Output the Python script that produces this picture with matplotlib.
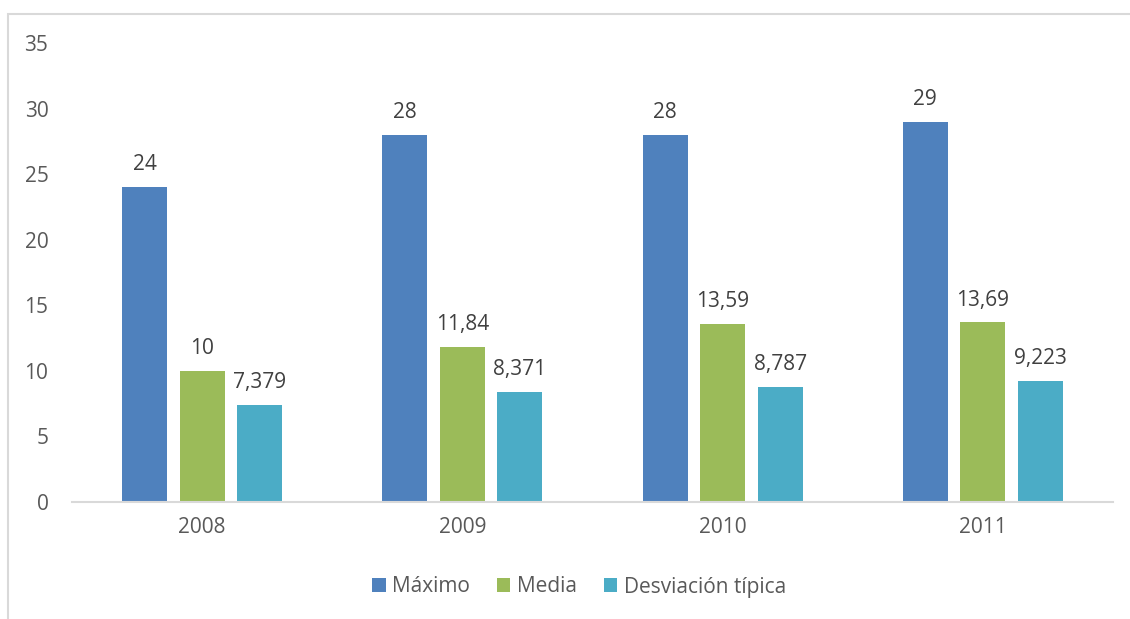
import numpy as np
import matplotlib.pyplot as plt
from matplotlib.patches import Rectangle

years = ["2008", "2009", "2010", "2011"]
series_names = ["Máximo", "Media", "Desviación típica"]
maximo = [24, 28, 28, 29]
media = [10, 11.84, 13.59, 13.69]
desviacion = [7.379, 8.371, 8.787, 9.223]
label_maximo = ["24", "28", "28", "29"]
label_media = ["10", "11,84", "13,59", "13,69"]
label_desviacion = ["7,379", "8,371", "8,787", "9,223"]

colors = ["#4f81bd", "#9bbb59", "#4bacc6"]
text_color = "#595959"

plt.rcParams['font.family'] = ['Open Sans', 'DejaVu Sans']

fig = plt.figure(figsize=(11.3, 6.19), dpi=100)
# chart frame (left/top border visible)
fig.patches.append(Rectangle((8 / 1130, -0.05), 1.2, 1 - 14 / 619 + 0.05,
                             transform=fig.transFigure, fill=False,
                             edgecolor="#d9d9d9", linewidth=1.5))

ax = fig.add_axes([72 / 1130, 1 - 502 / 619, (1113 - 72) / 1130, (502 - 43) / 619])

x = np.arange(len(years))
width = 0.173
step = 0.221
all_vals = [maximo, media, desviacion]
all_labels = [label_maximo, label_media, label_desviacion]
for i, (vals, labs) in enumerate(zip(all_vals, all_labels)):
    bars = ax.bar(x + (i - 1) * step, vals, width, color=colors[i], label=series_names[i])
    for b, lab in zip(bars, labs):
        ax.annotate(lab, (b.get_x() + b.get_width() / 2, b.get_height()),
                    xytext=(0, 8.5), textcoords="offset points",
                    ha="center", va="bottom", fontsize=15, color="#404040")

ax.set_xlim(-0.5, len(years) - 0.5)
ax.set_ylim(0, 35)
ax.set_yticks(range(0, 36, 5))
ax.set_xticks(x)
ax.set_xticklabels(years)
for s in ["top", "right", "left"]:
    ax.spines[s].set_visible(False)
ax.spines["bottom"].set_color("#d9d9d9")
ax.spines["bottom"].set_linewidth(1.5)
ax.tick_params(axis="both", length=0, labelsize=15, colors=text_color)
ax.tick_params(axis="x", pad=11)
ax.tick_params(axis="y", pad=17)

fig.legend(loc="center", bbox_to_anchor=(579 / 1130, 1 - 587 / 619), ncol=3,
           frameon=False, fontsize=15, labelcolor=text_color,
           handlelength=0.65, handleheight=0.65, handletextpad=0.3, columnspacing=1.3)

fig.savefig("out.png", dpi=100)
